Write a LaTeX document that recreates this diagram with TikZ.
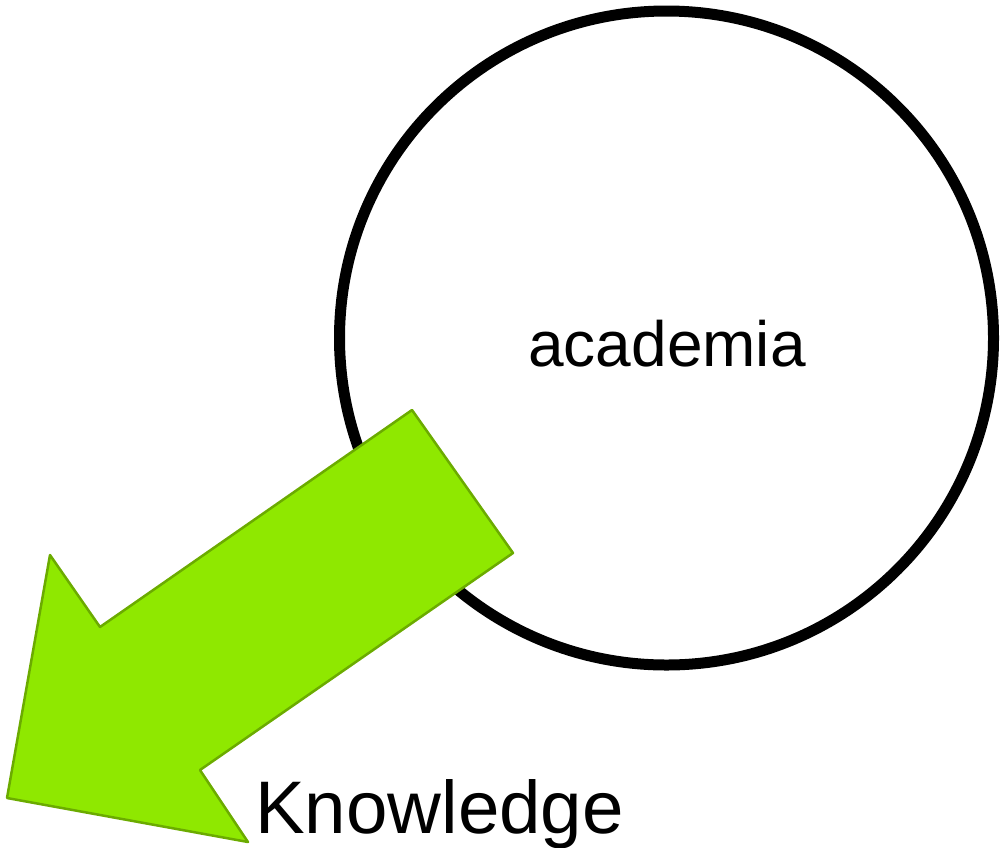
\documentclass[tikz,border=0pt]{standalone}
\usepackage{fontspec}
\setmainfont{Liberation Sans}
\usetikzlibrary{arrows}
\definecolor{qqccqq}{rgb}{0.56,0.91,0}
\definecolor{qqaaqq}{rgb}{0.42,0.67,0}

\begin{document}
\begin{tikzpicture}[line cap=round,line join=round,>=triangle 45,x=1pt,y=-1pt]
		\useasboundingbox (0,0) rectangle (1000,847);
		\node[circle,draw=black,line width=11pt,minimum size=654pt,inner sep=0pt] (academia) at (666.5,338) {};
		\node[font=\fontsize{64}{64}\selectfont,inner sep=0pt] (academialabel) at (667,344) {academia};
			\fill[color=qqaaqq,fill=qqccqq,line width=2.5pt] (412,410) -- (513,553) -- (200,770) -- (248,842) -- (7,798) -- (50,555) -- (100,627) -- cycle;
			\draw[color=qqaaqq,line width=2.5pt] (412,410) -- (513,553) -- (200,770) -- (248,842) -- (7,798) -- (50,555) -- (100,627) -- cycle;
		\node[anchor=base west,inner sep=0pt,font=\fontsize{74.5}{74.5}\selectfont] (knowledge) at (255,833) {Knowledge};
	\end{tikzpicture}
\end{document}
